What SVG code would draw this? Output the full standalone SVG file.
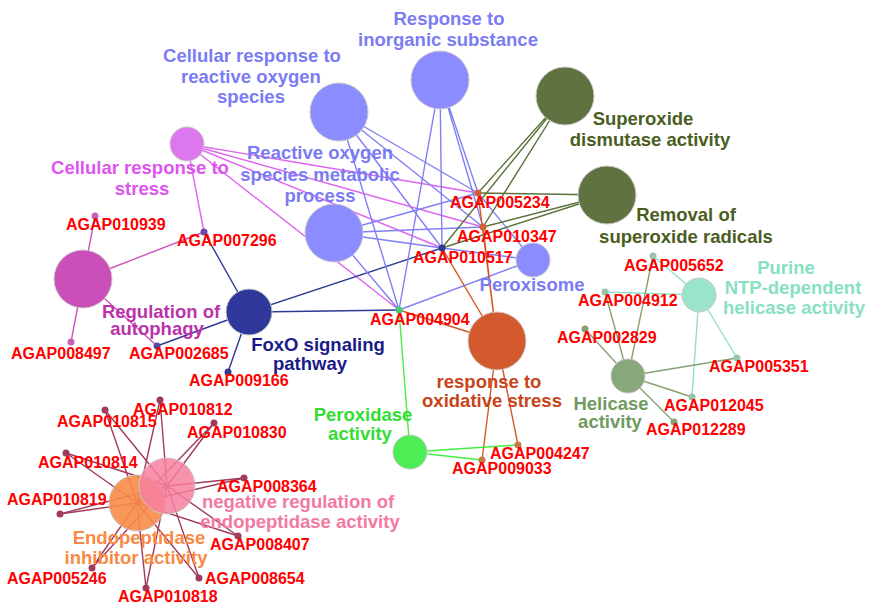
<svg xmlns="http://www.w3.org/2000/svg" width="870" height="604" viewBox="0 0 870 604">
<style>
.e{fill:none;stroke-width:1.4}
.eb{stroke:#8080f4}
.ecs{stroke:#dd66ee}
.era{stroke:#cc55bb}
.efx{stroke:#2e3a94}
.esd{stroke:#5b7238}
.eros{stroke:#d3592b}
.epx{stroke:#44ee44}
.epu{stroke:#8ee2c9}
.ehe{stroke:#86a272}
.een{stroke:#a03b5b}
.c{stroke:#c8c8c8;stroke-width:1}
.t{font-family:"Liberation Sans",Arial,sans-serif;font-weight:bold;font-size:18.5px;text-anchor:middle}
.g{font-family:"Liberation Sans",Arial,sans-serif;font-weight:bold;font-size:16px;fill:#ff0000}
</style>
<rect width="870" height="604" fill="#ffffff"/>
<g id="connectors">
<!-- Cellular response to stress -->
<path class="e ecs" d="M187,144L204,232M187,144L478,193M187,144L483,227M187,144L442,248M187,144L399,310"/>
<!-- Regulation of autophagy -->
<path class="e era" d="M83,279L95,216M83,279L71,342M83,279L204,232M83,279L157,346"/>
<!-- FoxO -->
<path class="e efx" d="M249,312L204,232M249,312L157,346M249,312L228,372M249,312L442,248M249,312L399,310"/>
<!-- blue terms -->
<path class="e eb" d="M339,112L478,193M339,112L483,227M339,112L442,248M339,112L399,310"/>
<path class="e eb" d="M440,80L478,193M440,80L483,227M440,80L442,248M440,80L399,310"/>
<path class="e eb" d="M334,233L478,193M334,233L483,227M334,233L442,248M334,233L399,310"/>
<path class="e eb" d="M533,260L478,193M533,260L442,248M533,260L399,310"/>
<!-- superoxide -->
<path class="e esd" d="M565,96L478,193M565,96L483,227M565,96L442,248"/>
<path class="e esd" d="M607,195L478,193M607,195L483,227M607,195L442,248"/>
<!-- response to oxidative stress -->
<path class="e eros" d="M497,341L478,193M497,341L483,227M497,341L442,248M497,341L399,310M497,341L518,445M497,341L482,460"/>
<!-- peroxidase -->
<path class="e epx" d="M410,452L399,310M410,452L518,445M410,452L482,460"/>
<!-- purine -->
<path class="e epu" d="M699,295L653,256M699,295L605,292M699,295L737,358M699,295L692,397"/>
<!-- helicase -->
<path class="e ehe" d="M628,376L653,256M628,376L605,292M628,376L585,329M628,376L737,358M628,376L692,397M628,376L674,422"/>
<!-- endopeptidase -->
<path class="e een" d="M167,486L160,400M167,486L105,410M167,486L214,423M167,486L66,453M167,486L244,478M167,486L60,514M167,486L238,536M167,486L92,568M167,486L199,578M167,486L146,588"/>
<path class="e een" d="M137,503L160,400M137,503L105,410M137,503L214,423M137,503L66,453M137,503L244,478M137,503L60,514M137,503L238,536M137,503L92,568M137,503L199,578M137,503L146,588"/>
</g>

<g id="n-response-inorganic">
<circle class="c" cx="440" cy="80" r="29" fill="#8a8cff"/>
<text class="t" fill="#7b7bf3" x="449" y="25">Response to</text>
<text class="t" fill="#7b7bf3" x="448" y="46">inorganic substance</text>
</g>
<g id="n-cellular-response-ros">
<circle class="c" cx="339" cy="112" r="29" fill="#8a8cff"/>
<text class="t" fill="#7b7bf3" x="252" y="62">Cellular response to</text>
<text class="t" fill="#7b7bf3" x="251" y="83">reactive oxygen</text>
<text class="t" fill="#7b7bf3" x="251" y="103">species</text>
</g>
<g id="n-ros-metabolic">
<circle class="c" cx="334" cy="233" r="29" fill="#8a8cff"/>
<text class="t" fill="#7b7bf3" x="320" y="159">Reactive oxygen</text>
<text class="t" fill="#7b7bf3" x="320" y="181">species metabolic</text>
<text class="t" fill="#7b7bf3" x="320" y="202">process</text>
</g>
<g id="n-peroxisome">
<circle class="c" cx="533" cy="260" r="17" fill="#8a8cff"/>
<text class="t" fill="#7b7bf3" x="532" y="291">Peroxisome</text>
</g>
<g id="n-superoxide-dismutase">
<circle class="c" cx="565" cy="96" r="29" fill="#5f7240"/>
<text class="t" fill="#4a5e22" x="643" y="125">Superoxide</text>
<text class="t" fill="#4a5e22" x="650" y="146">dismutase activity</text>
</g>
<g id="n-removal-superoxide">
<circle class="c" cx="607" cy="195" r="29" fill="#5f7240"/>
<text class="t" fill="#4a5e22" x="686" y="221">Removal of</text>
<text class="t" fill="#4a5e22" x="686" y="243">superoxide radicals</text>
</g>
<g id="n-cellular-response-stress">
<circle class="c" cx="187" cy="144" r="17" fill="#dd77ee"/>
<text class="t" fill="#dd55ee" x="140" y="174">Cellular response to</text>
<text class="t" fill="#dd55ee" x="142" y="195">stress</text>
</g>
<g id="n-regulation-autophagy">
<circle class="c" cx="83" cy="279" r="29" fill="#cb4fb8"/>
<text class="t" fill="#bb33aa" x="161" y="318">Regulation of</text>
<text class="t" fill="#bb33aa" x="157" y="335">autophagy</text>
</g>
<g id="n-foxo">
<circle class="c" cx="249" cy="312" r="23" fill="#30389c"/>
<text class="t" fill="#1a1a88" x="318" y="351">FoxO signaling</text>
<text class="t" fill="#1a1a88" x="310" y="370">pathway</text>
</g>
<g id="n-response-oxidative">
<circle class="c" cx="497" cy="341" r="29" fill="#d45a2e"/>
<text class="t" fill="#c8441a" x="489" y="388">response to</text>
<text class="t" fill="#c8441a" x="492" y="407">oxidative stress</text>
</g>
<g id="n-purine">
<circle class="c" cx="699" cy="295" r="17" fill="#9ae4cc"/>
<text class="t" fill="#88dfc2" x="786" y="274">Purine</text>
<text class="t" fill="#88dfc2" x="793" y="294">NTP-dependent</text>
<text class="t" fill="#88dfc2" x="794" y="314">helicase activity</text>
</g>
<g id="n-helicase">
<circle class="c" cx="628" cy="376" r="17" fill="#89a87a"/>
<text class="t" fill="#6f9a60" x="611" y="410">Helicase</text>
<text class="t" fill="#6f9a60" x="610" y="428">activity</text>
</g>
<g id="n-peroxidase">
<circle class="c" cx="410" cy="452" r="17" fill="#4ded55"/>
<text class="t" fill="#33dd33" x="363" y="421">Peroxidase</text>
<text class="t" fill="#33dd33" x="360" y="440">activity</text>
</g>
<g id="n-endopeptidase-inhibitor">
<circle class="c" cx="137" cy="503" r="28" fill="#f88c48" fill-opacity="0.9"/>
</g>
<g id="n-neg-reg-endopeptidase">
<circle class="c" cx="167" cy="486" r="28" fill="#f7809f" fill-opacity="0.85"/>
<text class="t" fill="#f27aa2" x="298" y="508">negative regulation of</text>
<text class="t" fill="#f27aa2" x="300" y="528">endopeptidase activity</text>
</g>
<g id="n-endopeptidase-inhibitor-label">
<text class="t" fill="#f88a45" x="139" y="544">Endopeptidase</text>
<text class="t" fill="#f88a45" x="136" y="564">inhibitor activity</text>
</g>

<!-- gene nodes -->
<g id="AGAP005234"><circle cx="478" cy="193" r="3.5" fill="#d0603a"/><text class="g" x="450" y="208">AGAP005234</text></g>
<g id="AGAP010347"><circle cx="483" cy="227" r="3.5" fill="#d0603a"/><text class="g" x="457" y="242">AGAP010347</text></g>
<g id="AGAP010517"><circle cx="442" cy="248" r="3.5" fill="#2e3a94"/><text class="g" x="413" y="263">AGAP010517</text></g>
<g id="AGAP004904"><circle cx="399" cy="310" r="3.5" fill="#44cc77"/><text class="g" x="370" y="325">AGAP004904</text></g>
<g id="AGAP007296"><circle cx="204" cy="232" r="3.5" fill="#6a4aa8"/><text class="g" x="177" y="246">AGAP007296</text></g>
<g id="AGAP010939"><circle cx="95" cy="216" r="3.5" fill="#c463b4"/><text class="g" x="66" y="230">AGAP010939</text></g>
<g id="AGAP008497"><circle cx="71" cy="342" r="3.5" fill="#c463b4"/><text class="g" x="11" y="359">AGAP008497</text></g>
<g id="AGAP002685"><circle cx="157" cy="346" r="3.5" fill="#5a48a0"/><text class="g" x="129" y="359">AGAP002685</text></g>
<g id="AGAP009166"><circle cx="228" cy="372" r="3.5" fill="#2e3a94"/><text class="g" x="189" y="386">AGAP009166</text></g>
<g id="AGAP005652"><circle cx="653" cy="256" r="3.5" fill="#99c4a8"/><text class="g" x="624" y="271">AGAP005652</text></g>
<g id="AGAP004912"><circle cx="605" cy="292" r="3.5" fill="#99c4a8"/><text class="g" x="578" y="306">AGAP004912</text></g>
<g id="AGAP002829"><circle cx="585" cy="329" r="3.5" fill="#86a272"/><text class="g" x="557" y="343">AGAP002829</text></g>
<g id="AGAP005351"><circle cx="737" cy="358" r="3.5" fill="#99c4a8"/><text class="g" x="709" y="372">AGAP005351</text></g>
<g id="AGAP012045"><circle cx="692" cy="397" r="3.5" fill="#99c4a8"/><text class="g" x="664" y="411">AGAP012045</text></g>
<g id="AGAP012289"><circle cx="674" cy="422" r="3.5" fill="#86a272"/><text class="g" x="646" y="435">AGAP012289</text></g>
<g id="AGAP004247"><circle cx="518" cy="445" r="3.5" fill="#c87a48"/><text class="g" x="490" y="459">AGAP004247</text></g>
<g id="AGAP009033"><circle cx="482" cy="460" r="3.5" fill="#c87a48"/><text class="g" x="452" y="474">AGAP009033</text></g>
<g id="AGAP010812"><circle cx="160" cy="400" r="3.5" fill="#a03b5b"/><text class="g" x="133" y="415">AGAP010812</text></g>
<g id="AGAP010815"><circle cx="105" cy="410" r="3.5" fill="#a03b5b"/><text class="g" x="57" y="427">AGAP010815</text></g>
<g id="AGAP010830"><circle cx="214" cy="423" r="3.5" fill="#a03b5b"/><text class="g" x="187" y="438">AGAP010830</text></g>
<g id="AGAP010814"><circle cx="66" cy="453" r="3.5" fill="#a03b5b"/><text class="g" x="38" y="468">AGAP010814</text></g>
<g id="AGAP008364"><circle cx="244" cy="478" r="3.5" fill="#a03b5b"/><text class="g" x="217" y="492">AGAP008364</text></g>
<g id="AGAP010819"><circle cx="60" cy="514" r="3.5" fill="#a03b5b"/><text class="g" x="7" y="505">AGAP010819</text></g>
<g id="AGAP008407"><circle cx="238" cy="536" r="3.5" fill="#a03b5b"/><text class="g" x="210" y="550">AGAP008407</text></g>
<g id="AGAP005246"><circle cx="92" cy="568" r="3.5" fill="#a03b5b"/><text class="g" x="7" y="584">AGAP005246</text></g>
<g id="AGAP008654"><circle cx="199" cy="578" r="3.5" fill="#a03b5b"/><text class="g" x="205" y="584">AGAP008654</text></g>
<g id="AGAP010818"><circle cx="146" cy="588" r="3.5" fill="#a03b5b"/><text class="g" x="118" y="602">AGAP010818</text></g>
</svg>
